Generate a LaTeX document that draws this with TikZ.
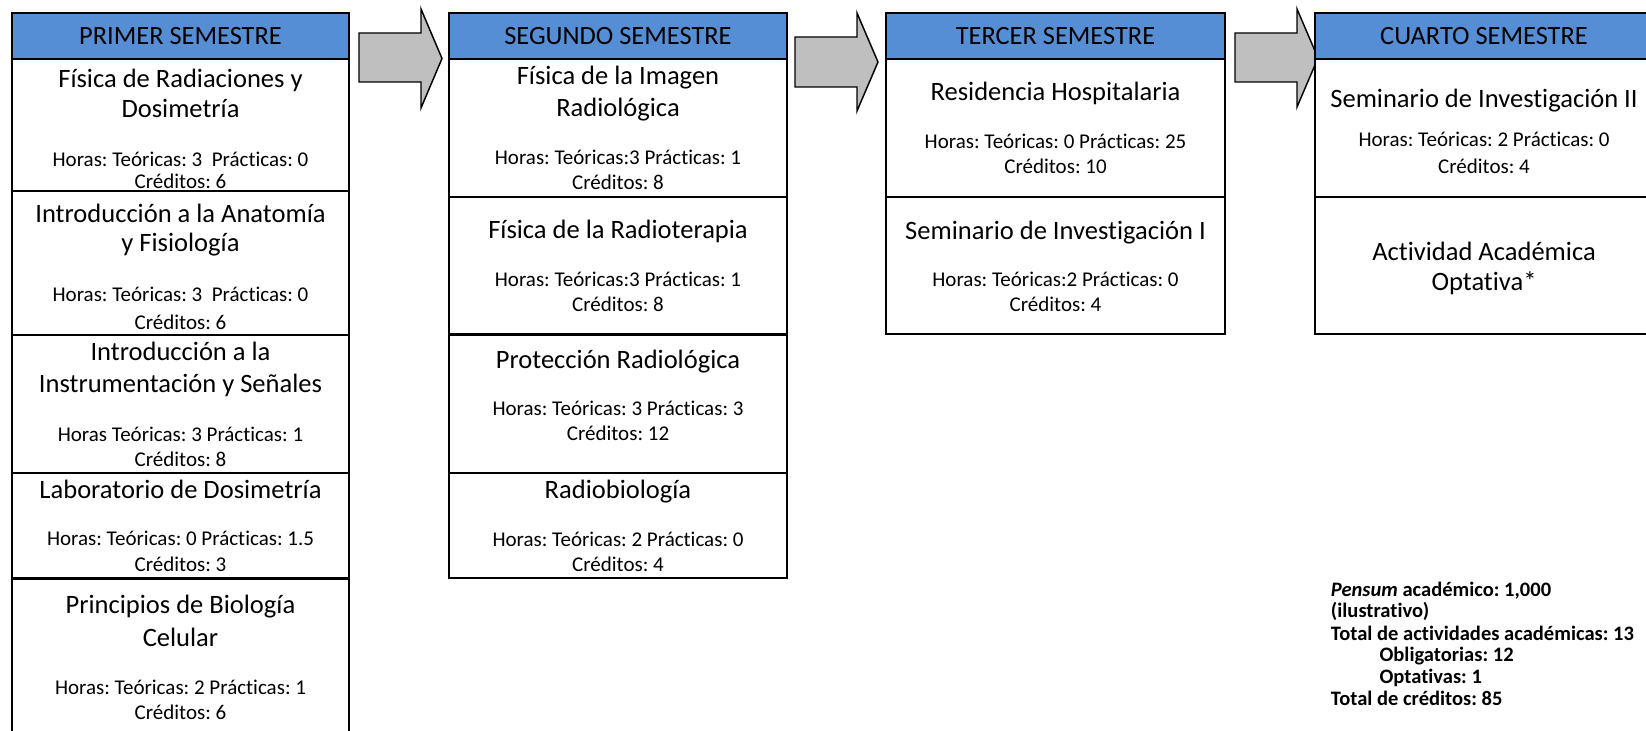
\documentclass[tikz,border=0pt]{standalone}
\usepackage{fontspec}
\setmainfont{Carlito}[Ligatures=NoCommon]
\frenchspacing
\usetikzlibrary{fit}
\definecolor{hdrblue}{HTML}{558ED5}
\definecolor{arrowgray}{HTML}{BFBFBF}
\tikzset{
  cellbox/.style={draw=black, line width=1.6pt, inner sep=0pt, fill=white},
  hdrbox/.style={cellbox, fill=hdrblue},
  hdrtext/.style={font=\fontsize{19.8}{23}\selectfont, anchor=base, inner sep=0pt},
  titletext/.style={font=\fontsize{19.9}{24}\selectfont, anchor=base, inner sep=0pt},
  smalltext/.style={font=\fontsize{15.75}{19}\selectfont, anchor=base, inner sep=0pt},
  notetext/.style={font=\bfseries\fontsize{15.4}{18}\selectfont, anchor=base west, inner sep=0pt},
  blockarrow/.style={draw=black, line width=1.1pt, fill=arrowgray, line join=miter},
}
\begin{document}
\begin{tikzpicture}[x=0.75pt,y=-0.75pt]
\useasboundingbox (0,0) rectangle (1646,731);
\clip (0,0) rectangle (1646,731);
\fill[white] (0,0) rectangle (1646,731);

% ---------- arrows between semesters ----------
\draw[blockarrow] (359,33) -- (421,33) -- (421,9) -- (442,58.5) -- (421,108) -- (421,82) -- (359,82) -- cycle;
\draw[blockarrow] (795,37) -- (857,37) -- (857,13) -- (878,62) -- (857,111) -- (857,87) -- (795,87) -- cycle;
\draw[blockarrow] (1235,33) -- (1297,33) -- (1297,9) -- (1318,58) -- (1297,107) -- (1297,82) -- (1235,82) -- cycle;

% ---------- column 1 ----------
\node[hdrbox, fit={(12,13) (349,59)}] (h1) {};
\node[cellbox, fit={(12,59) (349,190.7)}] (c1r1) {};
\node[cellbox, fit={(12,190.7) (349,335.3)}] (c1r2) {};
\node[cellbox, fit={(12,335.3) (349,472.7)}] (c1r3) {};
\node[cellbox, fit={(12,472.7) (349,578.5)}] (c1r4) {};
\node[cellbox, fit={(12,578.5) (349,745)}] (c1r5) {};

\node[hdrtext] (h1t) at (180.5,44.5) {PRIMER SEMESTRE};
\node[titletext] (c1r1a) at (180.5,87.3) {Física de Radiaciones y};
\node[titletext] (c1r1b) at (180.5,117.3) {Dosimetría};
\node[smalltext] (c1r1c) at (180.5,166.7) {Horas: Teóricas: 3\ \ Prácticas: 0};
\node[smalltext] (c1r1d) at (180.5,188.5) {Créditos: 6};
\node[titletext] (c1r2a) at (180.5,222.7) {Introducción a la Anatomía};
\node[titletext] (c1r2b) at (180.5,251.7) {y Fisiología};
\node[smalltext] (c1r2c) at (180.5,301.7) {Horas: Teóricas: 3\ \ Prácticas: 0};
\node[smalltext] (c1r2d) at (180.5,329) {Créditos: 6};
\node[titletext] (c1r3a) at (180.5,360) {Introducción a la};
\node[titletext] (c1r3b) at (180.5,392.7) {Instrumentación y Señales};
\node[smalltext] (c1r3c) at (180.5,441) {Horas Teóricas: 3 Prácticas: 1};
\node[smalltext] (c1r3d) at (180.5,466) {Créditos: 8};
\node[titletext] (c1r4a) at (180.5,498.3) {Laboratorio de Dosimetría};
\node[smalltext] (c1r4c) at (180.5,545.7) {Horas: Teóricas: 0 Prácticas: 1.5};
\node[smalltext] (c1r4d) at (180.5,571.7) {Créditos: 3};
\node[titletext] (c1r5a) at (180.5,613.3) {Principios de Biología};
\node[titletext] (c1r5b) at (180.5,646) {Celular};
\node[smalltext] (c1r5c) at (180.5,694.3) {Horas: Teóricas: 2 Prácticas: 1};
\node[smalltext] (c1r5d) at (180.5,719.3) {Créditos: 6};

% ---------- column 2 ----------
\node[hdrbox, fit={(449,13) (787,59)}] (h2) {};
\node[cellbox, fit={(449,59) (787,197.2)}] (c2r1) {};
\node[cellbox, fit={(449,197.2) (787,334.5)}] (c2r2) {};
\node[cellbox, fit={(449,334.5) (787,473.3)}] (c2r3) {};
\node[cellbox, fit={(449,473.3) (787,578.3)}] (c2r4) {};

\node[hdrtext] (h2t) at (618,45) {SEGUNDO SEMESTRE};
\node[titletext] (c2r1a) at (618,84.3) {Física de la Imagen};
\node[titletext] (c2r1b) at (618,116.7) {Radiológica};
\node[smalltext] (c2r1c) at (618,164.3) {Horas: Teóricas:3 Prácticas: 1};
\node[smalltext] (c2r1d) at (618,190) {Créditos: 8};
\node[titletext] (c2r2a) at (618,238.3) {Física de la Radioterapia};
\node[smalltext] (c2r2c) at (618,286) {Horas: Teóricas:3 Prácticas: 1};
\node[smalltext] (c2r2d) at (618,311.7) {Créditos: 8};
\node[titletext] (c2r3a) at (618,368.3) {Protección Radiológica};
\node[smalltext] (c2r3c) at (618,415) {Horas: Teóricas: 3 Prácticas: 3};
\node[smalltext] (c2r3d) at (618,440.7) {Créditos: 12};
\node[titletext] (c2r4a) at (618,498.3) {Radiobiología};
\node[smalltext] (c2r4c) at (618,546.7) {Horas: Teóricas: 2 Prácticas: 0};
\node[smalltext] (c2r4d) at (618,571.7) {Créditos: 4};

% ---------- column 3 ----------
\node[hdrbox, fit={(886,13) (1225,59)}] (h3) {};
\node[cellbox, fit={(886,59) (1225,196.7)}] (c3r1) {};
\node[cellbox, fit={(886,196.7) (1225,334.3)}] (c3r2) {};

\node[hdrtext] (h3t) at (1055.5,45) {TERCER SEMESTRE};
\node[titletext] (c3r1a) at (1055.5,100.7) {Residencia Hospitalaria};
\node[smalltext] (c3r1c) at (1055.5,148.3) {Horas: Teóricas: 0 Prácticas: 25};
\node[smalltext] (c3r1d) at (1055.5,174) {Créditos: 10};
\node[titletext] (c3r2a) at (1055.5,239.3) {Seminario de Investigación I};
\node[smalltext] (c3r2c) at (1055.5,286) {Horas: Teóricas:2 Prácticas: 0};
\node[smalltext] (c3r2d) at (1055.5,311.7) {Créditos: 4};

% ---------- column 4 ----------
\node[hdrbox, fit={(1315,13) (1653,59)}] (h4) {};
\node[cellbox, fit={(1315,59) (1653,197.3)}] (c4r1) {};
\node[cellbox, fit={(1315,197.3) (1653,334.3)}] (c4r2) {};

\node[hdrtext] (h4t) at (1484,45) {CUARTO SEMESTRE};
\node[titletext] (c4r1a) at (1484,107.3) {Seminario de Investigación II};
\node[smalltext] (c4r1c) at (1484,146.7) {Horas: Teóricas: 2 Prácticas: 0};
\node[smalltext] (c4r1d) at (1484,173.3) {Créditos: 4};
\node[titletext] (c4r2a) at (1484,260) {Actividad Académica};
\node[titletext] (c4r2b) at (1484,290) {Optativa*};

% ---------- summary note ----------
\node[notetext] (n1) at (1330.7,596) {\textit{Pensum} académico: 1,000};
\node[notetext] (n2) at (1330.7,617.3) {(ilustrativo)};
\node[notetext] (n3) at (1330.7,640) {Total de actividades académicas: 13};
\node[notetext] (n4) at (1379.3,661.7) {Obligatorias: 12};
\node[notetext] (n5) at (1379.3,683.3) {Optativas: 1};
\node[notetext] (n6) at (1330.7,705) {Total de créditos: 85};
\end{tikzpicture}
\end{document}
